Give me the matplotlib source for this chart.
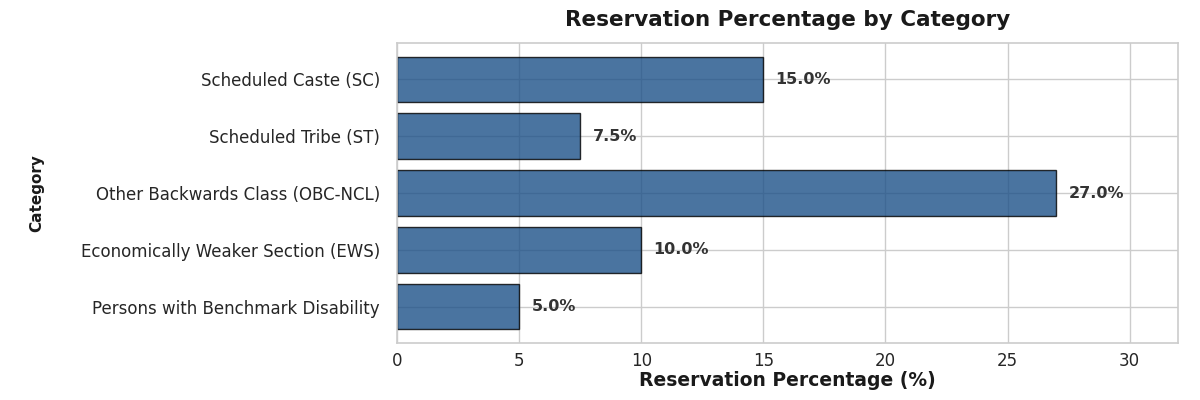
import matplotlib
matplotlib.use("Agg")
import matplotlib.pyplot as plt
import seaborn as sns

categories = [
    "Scheduled Caste (SC)",
    "Scheduled Tribe (ST)",
    "Other Backwards Class (OBC-NCL)",
    "Economically Weaker Section (EWS)",
    "Persons with Benchmark Disability",
]
percentages = [15.0, 7.5, 27.0, 10.0, 5.0]

sns.set_style("whitegrid")
plt.rcParams['font.family'] = ['DejaVu Sans']

fig = plt.figure(figsize=(12, 4), dpi=100)
ax = fig.add_axes([0.331, 0.1425, 0.651, 0.75])

ypos = list(range(len(categories)))
ax.barh(ypos, percentages, height=0.8, color="#1d5188", alpha=0.8,
        edgecolor="black", linewidth=1.0)
ax.set_yticks(ypos)
ax.set_yticklabels(categories, fontsize=12, color="#262626")
ax.invert_yaxis()
ax.set_xlim(0, 32)
ax.set_xticks([0, 5, 10, 15, 20, 25, 30])
ax.tick_params(axis='x', labelsize=12, colors="#262626", pad=3)
ax.tick_params(axis='y', pad=9)

for y, v in zip(ypos, percentages):
    ax.text(v + 0.5, y, f"{v:.1f}%", va="center", ha="left",
            fontsize=11.5, fontweight="bold", color="#333333")

ax.set_title("Reservation Percentage by Category", fontsize=15.5,
             fontweight="bold", pad=12, color="#1a1a1a")
ax.set_xlabel("Reservation Percentage (%)", fontsize=13.5, fontweight="bold",
              labelpad=1, color="#1a1a1a")
ax.set_ylabel("Category", fontsize=11, fontweight="bold", color="#1a1a1a")
ax.yaxis.set_label_coords(-0.452, 0.5)

ax.grid(True, color="#cccccc", linewidth=1.0)
ax.set_axisbelow(True)
for s in ax.spines.values():
    s.set_color("#cccccc")
    s.set_linewidth(1.2)

fig.savefig("out.png", dpi=100)
